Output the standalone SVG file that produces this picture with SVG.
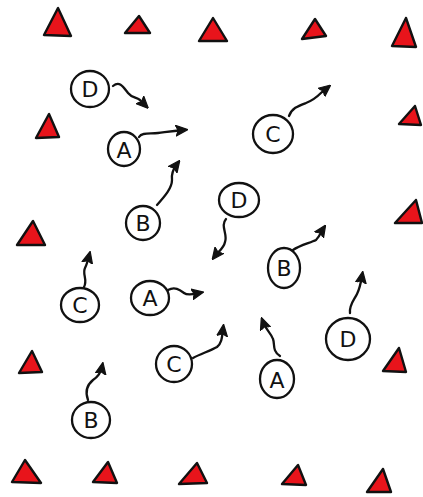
<svg xmlns="http://www.w3.org/2000/svg" width="423" height="497" viewBox="0 0 423 497">
<defs>
<style>
.cone{fill:#e8141b;stroke:#111;stroke-width:2.4;stroke-linejoin:round}
.ring{fill:#fff;stroke:#111;stroke-width:2.3}
.lbl{font-family:"DejaVu Sans","Liberation Sans",sans-serif;font-size:22px;font-weight:normal;fill:#111;text-anchor:middle;dominant-baseline:central}
.mv{fill:none;stroke:#111;stroke-width:2.3;stroke-linecap:round;marker-end:url(#head)}
</style>
<marker id="head" viewBox="0 0 10 10" refX="6" refY="5" markerWidth="12" markerHeight="12" markerUnits="userSpaceOnUse" orient="auto">
<path d="M0,0.5 L10,5 L0,9.5 L2,5 z" fill="#111" stroke="#111" stroke-width="1" stroke-linejoin="round"/>
</marker>
</defs>
<rect width="423" height="497" fill="#fff"/>
<g id="cones">
<polygon class="cone" points="58,8 44,35 71,36"/>
<polygon class="cone" points="139,16 125,33 150,33"/>
<polygon class="cone" points="213,18 199,41 227,41"/>
<polygon class="cone" points="315,19 302,39 326,36"/>
<polygon class="cone" points="406,18 392,46 416,47"/>
<polygon class="cone" points="49,114 36,138 59,137"/>
<polygon class="cone" points="415,106 399,124 421,125"/>
<polygon class="cone" points="33,221 17,245 45,245"/>
<polygon class="cone" points="416,200 395,223 422,223"/>
<polygon class="cone" points="32,351 19,373 42,372"/>
<polygon class="cone" points="399,348 383,371 406,372"/>
<polygon class="cone" points="25,460 12,482 41,483"/>
<polygon class="cone" points="108,462 93,482 117,483"/>
<polygon class="cone" points="197,463 179,484 207,483"/>
<polygon class="cone" points="298,465 282,484 306,485"/>
<polygon class="cone" points="383,469 367,492 391,492"/>
</g>
<g id="connectors">
<path class="mv" d="M113,86 C120,80 124,88 128,93 S136,97 140,100 L145,105"/>
<path class="mv" d="M139,137 C142,132 150,134 158,133 S172,131 183,130"/>
<path class="mv" d="M289,116 C292,108 298,106 306,103 S318,96 322,92 L327,88"/>
<path class="mv" d="M157,205 C165,196 172,188 172,180 C171,173 174,168 177,164"/>
<path class="mv" d="M226,219 C220,226 228,234 225,242 C224,248 218,252 215,256"/>
<path class="mv" d="M84,287 C88,280 82,274 85,268 C87,264 88,260 89,256"/>
<path class="mv" d="M168,290 C175,286 180,290 184,293 S194,294 199,293"/>
<path class="mv" d="M293,250 C300,245 310,243 316,240 C320,236 321,232 323,229"/>
<path class="mv" d="M350,313 C349,305 354,300 357,294 C360,288 361,282 362,276"/>
<path class="mv" d="M280,356 C272,351 275,344 273,339 C271,333 266,330 263,322"/>
<path class="mv" d="M193,358 C200,354 210,351 217,347 C222,343 222,337 223,329"/>
<path class="mv" d="M88,400 C85,392 87,385 93,380 C99,376 101,372 102,367"/>
</g>
<g id="d1"><ellipse class="ring" cx="90" cy="89" rx="19" ry="18"/><text class="lbl" x="90" y="89">D</text></g>
<g id="a1"><ellipse class="ring" cx="124" cy="149" rx="16" ry="17"/><text class="lbl" x="124" y="150">A</text></g>
<g id="c1"><ellipse class="ring" cx="273" cy="134" rx="20" ry="19"/><text class="lbl" x="273" y="134">C</text></g>
<g id="b1"><ellipse class="ring" cx="143" cy="223" rx="17" ry="17"/><text class="lbl" x="143" y="223">B</text></g>
<g id="d2"><ellipse class="ring" cx="239" cy="200" rx="20" ry="17"/><text class="lbl" x="239" y="200">D</text></g>
<g id="b2"><ellipse class="ring" cx="284" cy="268" rx="16" ry="20"/><text class="lbl" x="284" y="268">B</text></g>
<g id="c2"><ellipse class="ring" cx="80" cy="305" rx="19" ry="17"/><text class="lbl" x="80" y="305">C</text></g>
<g id="a2"><ellipse class="ring" cx="150" cy="298" rx="19" ry="17"/><text class="lbl" x="150" y="298">A</text></g>
<g id="d3"><ellipse class="ring" cx="348" cy="339" rx="22" ry="21"/><text class="lbl" x="348" y="339">D</text></g>
<g id="c3"><ellipse class="ring" cx="174" cy="364" rx="18" ry="18"/><text class="lbl" x="174" y="364">C</text></g>
<g id="a3"><ellipse class="ring" cx="277" cy="379" rx="17" ry="19"/><text class="lbl" x="277" y="380">A</text></g>
<g id="b3"><ellipse class="ring" cx="91" cy="420" rx="19" ry="18"/><text class="lbl" x="91" y="420">B</text></g>
</svg>
